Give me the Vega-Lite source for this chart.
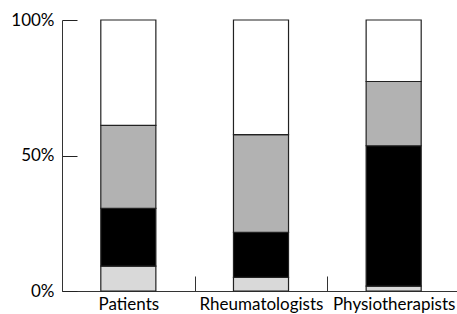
{
  "$schema": "https://vega.github.io/schema/vega-lite/v6.json",
  "autosize": "none",
  "padding": {"left": 62, "top": 20, "right": 0, "bottom": 23},
  "width": 398,
  "height": 271,
  "background": "white",
  "config": {"view": {"stroke": null}},
  "data": {
    "values": [
      {"group": "Patients", "k": 1, "value": 9.2},
      {"group": "Patients", "k": 2, "value": 21.3},
      {"group": "Patients", "k": 3, "value": 30.6},
      {"group": "Patients", "k": 4, "value": 38.9},
      {"group": "Rheumatologists", "k": 1, "value": 5.0},
      {"group": "Rheumatologists", "k": 2, "value": 16.6},
      {"group": "Rheumatologists", "k": 3, "value": 36.1},
      {"group": "Rheumatologists", "k": 4, "value": 42.3},
      {"group": "Physiotherapists", "k": 1, "value": 1.8},
      {"group": "Physiotherapists", "k": 2, "value": 51.8},
      {"group": "Physiotherapists", "k": 3, "value": 23.7},
      {"group": "Physiotherapists", "k": 4, "value": 22.7}
    ]
  },
  "mark": {"type": "bar", "stroke": "#222222", "strokeWidth": 1.2, "width": {"band": 0.415}},
  "encoding": {
    "x": {
      "field": "group",
      "type": "nominal",
      "sort": ["Patients", "Rheumatologists", "Physiotherapists"],
      "scale": {"paddingInner": 0, "paddingOuter": 0},
      "axis": {
        "title": null,
        "labelAngle": 0,
        "ticks": true,
        "tickBand": "extent",
        "tickSize": -15,
        "tickWidth": 1,
        "tickColor": "#333333",
        "domainColor": "#333333",
        "labelPadding": 20,
        "labelFont": "Lato",
        "labelFontSize": 17,
        "labelColor": "#000000"
      }
    },
    "y": {
      "field": "value",
      "type": "quantitative",
      "stack": "normalize",
      "scale": {"domain": [0, 1]},
      "axis": {
        "title": null,
        "values": [0, 0.5, 1],
        "format": ".0%",
        "grid": false,
        "tickSize": -15,
        "tickColor": "#222222",
        "domainColor": "#333333",
        "labelPadding": 23,
        "labelFont": "Lato",
        "labelFontSize": 17,
        "labelColor": "#000000"
      }
    },
    "color": {
      "field": "k",
      "type": "ordinal",
      "scale": {"domain": [1, 2, 3, 4], "range": ["#d9d9d9", "#000000", "#b2b2b2", "#ffffff"]},
      "legend": null
    },
    "order": {"field": "k", "type": "quantitative", "sort": "ascending"}
  }
}
